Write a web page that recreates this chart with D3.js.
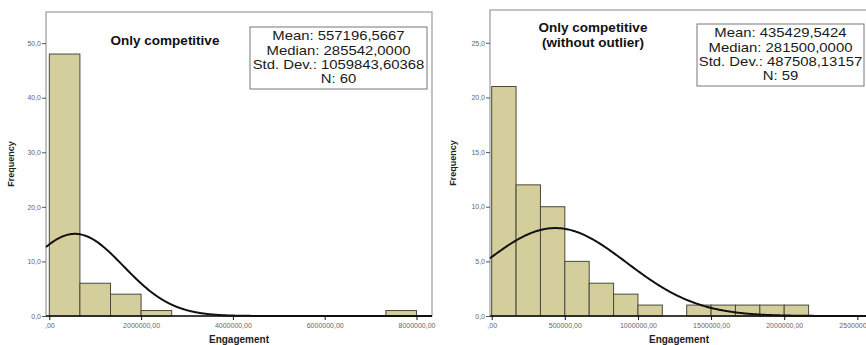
<!DOCTYPE html>
<html>
<head>
<meta charset="utf-8">
<script src="https://cdn.jsdelivr.net/npm/d3@7"></script>
<style>
  html, body { margin: 0; padding: 0; background: #fff; }
  svg { display: block; }
  text { font-family: "Liberation Sans", Arial, sans-serif; }
</style>
</head>
<body>
<svg id="chart" width="866" height="345"></svg>
<script>
// Histogram bins (counts per equal-width bin starting at 0)
const leftBinWidth = 8000000 / 12;
const leftCounts = [48, 6, 4, 1, 0, 0, 0, 0, 0, 0, 0, 1];
const rightBinWidth = 500000 / 3;
const rightCounts = [21, 12, 10, 5, 3, 2, 1, 0, 1, 1, 1, 1, 1];

// Descriptive statistics shown in the boxes
const leftStats = { mean: 557196.5667, median: 285542.0000, sd: 1059843.60368, n: 60 };
const rightStats = { mean: 435429.5424, median: 281500.0000, sd: 487508.13157, n: 59 };
const leftStatLabels = ["Mean: 557196,5667", "Median: 285542,0000", "Std. Dev.: 1059843,60368", "N: 60"];
const rightStatLabels = ["Mean: 435429,5424", "Median: 281500,0000", "Std. Dev.: 487508,13157", "N: 59"];

// Titles and tick values
const leftTitle = ["Only competitive"];
const rightTitle = ["Only competitive", "(without outlier)"];
const leftYTicks = [0, 10, 20, 30, 40, 50];
const rightYTicks = [0, 5, 10, 15, 20, 25];
const leftXTicks = [0, 2000000, 4000000, 6000000, 8000000];
const rightXTicks = [0, 500000, 1000000, 1500000, 2000000, 2500000];

const svg = d3.select("#chart");
const BAR_FILL = "#d3ce9b";
const BAR_STROKE = "#4a4a3a";
const FRAME = "#9a9a9a";

const fmtY = v => d3.format(".1f")(v).replace(".", ",");
const fmtX = v => v === 0 ? ",00" : d3.format(".2f")(v).replace(".", ",");

function drawPanel(cfg) {
  const g = svg.append("g");
  const x = d3.scaleLinear().domain(cfg.xDomain).range([cfg.left, cfg.right]);
  const y = d3.scaleLinear().domain(cfg.yDomain).range([cfg.bottom, cfg.top]);

  // plot frame
  g.append("rect")
    .attr("x", cfg.left).attr("y", cfg.top)
    .attr("width", cfg.right - cfg.left).attr("height", cfg.bottom - cfg.top)
    .attr("fill", "none").attr("stroke", FRAME).attr("stroke-width", 1.2);

  // bars
  const bins = cfg.counts.map((c, i) => ({ x0: i * cfg.binWidth, x1: (i + 1) * cfg.binWidth, c }))
    .filter(d => d.c > 0);
  g.selectAll("rect.bar").data(bins).join("rect")
    .attr("class", "bar")
    .attr("x", d => x(d.x0))
    .attr("y", d => y(d.c))
    .attr("width", d => x(d.x1) - x(d.x0))
    .attr("height", d => y(0) - y(d.c))
    .attr("fill", BAR_FILL)
    .attr("stroke", BAR_STROKE)
    .attr("stroke-width", 1);

  // normal curve scaled to counts: N * binWidth * pdf
  const s = cfg.stats;
  const norm = v => s.n * cfg.binWidth / (s.sd * Math.sqrt(2 * Math.PI)) *
    Math.exp(-0.5 * Math.pow((v - s.mean) / s.sd, 2));
  const pts = d3.range(0, 401).map(i => {
    const v = cfg.xDomain[0] + (cfg.xDomain[1] - cfg.xDomain[0]) * i / 400;
    return [v, norm(v)];
  });
  g.append("path")
    .datum(pts)
    .attr("d", d3.line().x(d => x(d[0])).y(d => y(d[1])).curve(d3.curveBasis))
    .attr("fill", "none").attr("stroke", "#111").attr("stroke-width", 2);

  // y axis
  const yAxis = g.append("g")
    .attr("transform", `translate(${cfg.left},0)`)
    .call(d3.axisLeft(y).tickValues(cfg.yTicks).tickFormat(fmtY).tickSize(4).tickPadding(1));
  yAxis.select(".domain").remove();
  yAxis.selectAll("line").attr("stroke", "#555");
  yAxis.selectAll("text").attr("fill", "#666").attr("font-size", 7);

  // x axis
  const xAxis = g.append("g")
    .attr("transform", `translate(0,${cfg.bottom})`)
    .call(d3.axisBottom(x).tickValues(cfg.xTicks).tickFormat(fmtX).tickSize(4).tickPadding(3));
  xAxis.select(".domain").attr("stroke", "#111").attr("stroke-width", 1.5)
    .attr("d", `M${cfg.left},0H${cfg.right}`);
  xAxis.selectAll("line").attr("stroke", "#111");
  xAxis.selectAll("text").attr("fill", "#666").attr("font-size", 7);

  // axis titles
  g.append("text")
    .attr("x", cfg.xTitleX)
    .attr("y", 343)
    .attr("text-anchor", "middle").attr("font-weight", "bold").attr("font-size", 10)
    .attr("fill", "#222")
    .text("Engagement");
  g.append("text")
    .attr("transform", `translate(${cfg.yTitleX},${(cfg.top + cfg.bottom) / 2}) rotate(-90)`)
    .attr("text-anchor", "middle").attr("font-weight", "bold").attr("font-size", 9)
    .attr("fill", "#222")
    .text("Frequency");

  // chart title
  g.selectAll("text.title").data(cfg.title).join("text")
    .attr("class", "title")
    .attr("x", cfg.titleX)
    .attr("y", (d, i) => cfg.titleY + i * 15)
    .attr("text-anchor", "middle").attr("font-weight", "bold").attr("font-size", 13.5)
    .attr("fill", "#111")
    .text(d => d);

  // statistics box: wide, tightly stacked lines
  const b = cfg.box;
  g.append("rect")
    .attr("x", b.x).attr("y", b.y).attr("width", b.w).attr("height", b.h)
    .attr("fill", "#fff").attr("stroke", "#777").attr("stroke-width", 1);
  const cx = b.x + b.w / 2;
  g.append("g")
    .attr("transform", `translate(${cx},0) scale(1.22,1)`)
    .selectAll("text.stat").data(cfg.statLabels).join("text")
    .attr("class", "stat")
    .attr("x", 0)
    .attr("y", (d, i) => b.y + 13.5 + i * 14.3)
    .attr("text-anchor", "middle").attr("font-size", 12.2)
    .attr("fill", "#1a1a1a")
    .text(d => d);
}

drawPanel({
  left: 46, right: 432, top: 12, bottom: 316,
  xDomain: [-72000, 8338000], yDomain: [0, 55.7],
  counts: leftCounts, binWidth: leftBinWidth, stats: leftStats,
  statLabels: leftStatLabels, title: leftTitle,
  yTicks: leftYTicks, xTicks: leftXTicks,
  titleX: 165, titleY: 45, yTitleX: 14, xTitleX: 239,
  box: { x: 250, y: 27, w: 177, h: 62 }
});

drawPanel({
  left: 490, right: 880, top: 10, bottom: 316,
  xDomain: [-11600, 2655000], yDomain: [0, 28.0],
  counts: rightCounts, binWidth: rightBinWidth, stats: rightStats,
  statLabels: rightStatLabels, title: rightTitle,
  yTicks: rightYTicks, xTicks: rightXTicks,
  titleX: 593, titleY: 32, yTitleX: 456, xTitleX: 679,
  box: { x: 697, y: 24, w: 167, h: 62 }
});
</script>
</body>
</html>
